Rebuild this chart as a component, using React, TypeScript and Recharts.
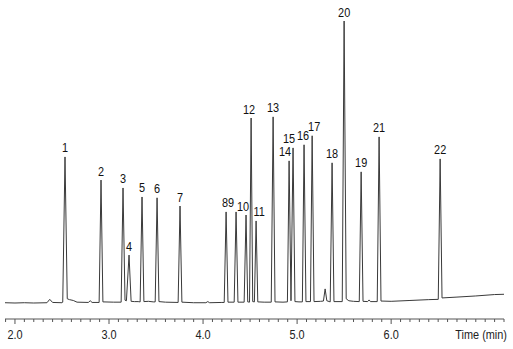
import { ComposedChart, Line, Scatter, XAxis, YAxis } from 'recharts';

// retention times (min), signal heights and labels of the numbered peaks
const peakTimes = [2.532, 2.915, 3.149, 3.213, 3.351, 3.511, 3.755, 4.245, 4.351, 4.457, 4.564, 4.511, 4.745, 4.915, 4.957, 5.074, 5.16, 5.372, 5.681, 5.5, 5.872, 6.521];
const peakHeights = [51.8, 43.6, 40.8, 17.0, 37.6, 37.3, 34.4, 32.3, 32.3, 31.2, 29.1, 65.6, 66.0, 50.4, 55.0, 56.1, 59.3, 49.7, 46.5, 100, 58.9, 51.1];
const peakLabels = ['1', '2', '3', '4', '5', '6', '7', '8', '9', '10', '11', '12', '13', '14', '15', '16', '17', '18', '19', '20', '21', '22'];

// detector trace: time (min) and signal
const traceTime = [
  1.894, 2.0, 2.1, 2.2, 2.34, 2.37, 2.4, 2.5,
  2.508, 2.532, 2.556, 2.58, 2.62, 2.66, 2.78, 2.8, 2.82,
  2.895, 2.915, 2.935, 3.05,
  3.129, 3.149, 3.17, 3.185, 3.213, 3.235, 3.27, 3.31,
  3.331, 3.351, 3.371, 3.42, 3.47,
  3.491, 3.511, 3.531, 3.6,
  3.735, 3.755, 3.775, 3.9, 4.03, 4.05, 4.07, 4.2,
  4.225, 4.245, 4.265,
  4.331, 4.351, 4.371,
  4.437, 4.457, 4.475, 4.494, 4.511, 4.528, 4.546, 4.564, 4.582, 4.65,
  4.725, 4.745, 4.765, 4.85,
  4.897, 4.915, 4.935, 4.957, 4.977, 5.02,
  5.056, 5.074, 5.094,
  5.142, 5.16, 5.18, 5.25, 5.28, 5.298, 5.316,
  5.352, 5.372, 5.392,
  5.48, 5.5, 5.522, 5.55, 5.6,
  5.661, 5.681, 5.701, 5.75, 5.766, 5.78,
  5.852, 5.872, 5.892, 6.0, 6.2, 6.4, 6.5,
  6.501, 6.521, 6.541, 6.7, 6.9, 7.1, 7.2,
];
const traceSignal = [
  0.1, 0.0, 0.1, 0.0, 0.1, 1.3, 0.2, 0.1,
  0.3, 51.8, 1.5, 1.2, 0.9, 0.3, 0.2, 0.8, 0.2,
  0.2, 43.6, 0.4, 0.3,
  0.3, 40.8, 1.0, 0.8, 17.0, 0.6, 0.5, 0.5,
  0.4, 37.6, 0.5, 0.6, 0.4,
  0.4, 37.3, 0.5, 0.3,
  0.2, 34.4, 0.3, 0.1, 0.1, 0.5, 0.1, 0.2,
  0.2, 32.3, 0.3,
  0.3, 32.3, 0.3,
  0.3, 31.2, 0.4, 0.3, 65.6, 0.5, 0.4, 29.1, 0.4, 0.3,
  0.3, 66.0, 0.4, 0.3,
  0.4, 50.4, 0.8, 55.0, 0.5, 0.4,
  0.4, 56.1, 0.5,
  0.5, 59.3, 0.5, 0.6, 0.7, 5.0, 0.8,
  0.4, 49.7, 0.5,
  0.5, 100, 1.5, 0.8, 0.6,
  0.5, 46.5, 0.6, 0.5, 1.1, 0.5,
  0.5, 58.9, 0.7, 0.6, 0.9, 1.2, 1.3,
  1.3, 51.1, 1.8, 2.1, 2.5, 3.0, 3.1,
];

const majorTicks = [2, 3, 4, 5, 6];
const minorTicks = Array.from({ length: 54 }, (_, i) => Math.round((1.9 + i * 0.1) * 10) / 10);

const traceData = traceTime.map((t, i) => ({ t, s: traceSignal[i] }));
const peakData = peakTimes.map((t, i) => ({ t, s: peakHeights[i], label: peakLabels[i] }));

// label nudges for crowded peaks
const labelShift: Record<string, number> = { '8': -1, '9': -5, '10': -3, '11': 3, '12': -2, '14': -4, '15': -4, '16': -1, '17': 2 };

const FONT = '"Liberation Sans", Arial, sans-serif';

// narrow text: regular face squeezed horizontally
const NarrowText = ({ x, y, anchor, fill, children }: any) => (
  <g transform={`translate(${x},${y}) scale(0.84,1)`}>
    <text x={0} y={0} textAnchor={anchor} fontSize={13} fontFamily={FONT} fill={fill}>
      {children}
    </text>
  </g>
);

const AxisTick = (props: any) => {
  const { x, y, payload } = props;
  const v = payload.value;
  const major = majorTicks.some((m) => Math.abs(m - v) < 1e-6);
  return (
    <g>
      <line x1={x} x2={x} y1={y} y2={y + (major ? 5 : 3)} stroke="#555" strokeWidth={1} />
      {major && (
        <NarrowText x={x} y={y + 19.5} anchor="middle" fill="#222">
          {v.toFixed(1)}
        </NarrowText>
      )}
    </g>
  );
};

const PeakLabel = (props: any) => {
  const { cx, cy, payload } = props;
  const dx = labelShift[payload.label] || 0;
  return (
    <NarrowText x={cx + dx} y={cy - 4.5} anchor="middle" fill="#111">
      {payload.label}
    </NarrowText>
  );
};

export default function App() {
  return (
    <div style={{ position: 'absolute', left: 0, top: 0, background: '#fff' }}>
      <ComposedChart width={513} height={349} margin={{ top: 0, right: 9, left: 5, bottom: 0 }}>
        <XAxis
          type="number"
          dataKey="t"
          domain={[1.894, 7.2]}
          allowDataOverflow
          ticks={minorTicks}
          interval={0}
          tick={<AxisTick />}
          tickLine={false}
          tickSize={0}
          tickMargin={0}
          axisLine={{ stroke: '#555', strokeWidth: 1 }}
          height={30}
          label={{
            content: ({ viewBox }: any) => (
              <NarrowText x={viewBox.x + viewBox.width + 3} y={viewBox.y + 19.5} anchor="end" fill="#222">
                Time (min)
              </NarrowText>
            ),
          }}
        />
        <YAxis type="number" domain={[-5.67, 107.45]} allowDataOverflow hide />
        <Line data={traceData} dataKey="s" type="linear" dot={false} stroke="#3a3a3a" strokeWidth={1} isAnimationActive={false} />
        <Scatter data={peakData} dataKey="s" shape={<PeakLabel />} isAnimationActive={false} />
      </ComposedChart>
    </div>
  );
}
